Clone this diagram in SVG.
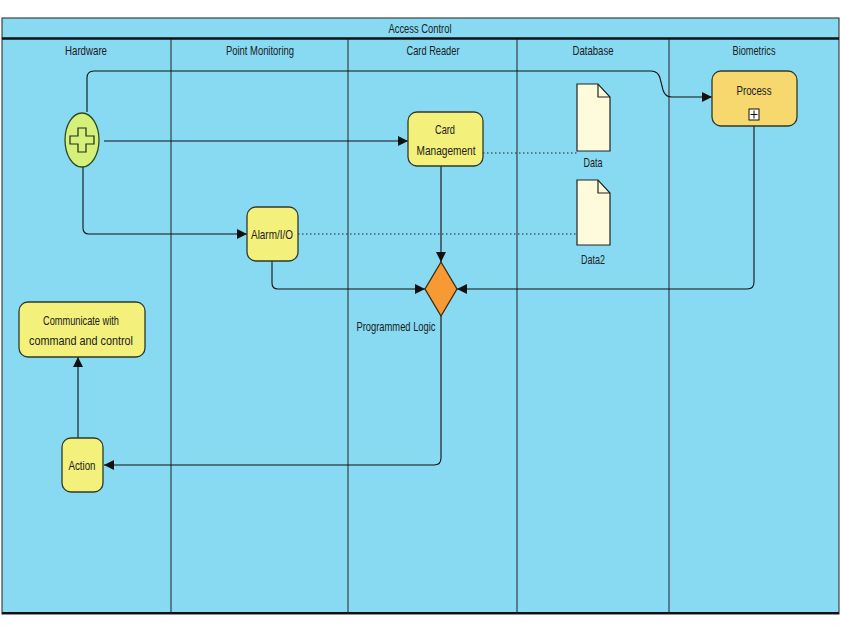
<svg xmlns="http://www.w3.org/2000/svg" width="842" height="631" viewBox="0 0 842 631">
<style>
text{font-family:"Liberation Sans Narrow","Liberation Sans",Arial,sans-serif;font-size:13px;fill:#1a1a1a;text-anchor:middle}
.task{fill:#f4f07c;stroke:#2d3b2a;stroke-width:1.3}
.lane{fill:#88daf3;stroke:#222;stroke-width:1}
.flow{fill:none;stroke:#111;stroke-width:1.1}
.dot{fill:none;stroke:#222;stroke-width:1;stroke-dasharray:1.5 2.5}
.doc{fill:#fdfbdc;stroke:#222;stroke-width:1.2}
</style>
<defs>
<marker id="ah" viewBox="0 0 10 10" refX="10" refY="5" markerWidth="10" markerHeight="10" markerUnits="userSpaceOnUse" orient="auto">
<path d="M0,0 L10,5 L0,10 Z" fill="#111"/>
</marker>
</defs>
<rect width="842" height="631" fill="#fff"/>
<g id="pool">
<rect class="lane" x="2" y="18" width="837" height="596"/>
<line x1="2" y1="38.5" x2="839" y2="38.5" stroke="#111" stroke-width="2.5"/>
<line x1="2" y1="613" x2="839" y2="613" stroke="#111" stroke-width="2"/>
<text x="420" y="33" textLength="63" lengthAdjust="spacingAndGlyphs">Access Control</text>
<line x1="171" y1="39" x2="171" y2="614" stroke="#222"/>
<line x1="348" y1="39" x2="348" y2="614" stroke="#222"/>
<line x1="517" y1="39" x2="517" y2="614" stroke="#222"/>
<line x1="669" y1="39" x2="669" y2="614" stroke="#222"/>
<text x="86" y="55" textLength="42" lengthAdjust="spacingAndGlyphs">Hardware</text>
<text x="260" y="55" textLength="68" lengthAdjust="spacingAndGlyphs">Point Monitoring</text>
<text x="433" y="55" textLength="53" lengthAdjust="spacingAndGlyphs">Card Reader</text>
<text x="593" y="55" textLength="41" lengthAdjust="spacingAndGlyphs">Database</text>
<text x="754" y="55" textLength="43" lengthAdjust="spacingAndGlyphs">Biometrics</text>
</g>
<g id="connectors">
<path class="flow" d="M87,112 V78 Q87,71 94,71 H651 Q658,71 660,78 L663,90 Q665,97 672,97 H712" marker-end="url(#ah)"/>
<path class="flow" d="M104,141 H408" marker-end="url(#ah)"/>
<path class="flow" d="M83,167 V228 Q83,234 89,234 H247" marker-end="url(#ah)"/>
<path class="flow" d="M441,166 V262" marker-end="url(#ah)"/>
<path class="flow" d="M272,261 V283 Q272,289 278,289 H425" marker-end="url(#ah)"/>
<path class="flow" d="M754,126 V282 Q754,289 747,289 H457" marker-end="url(#ah)"/>
<path class="flow" d="M441,316 V458 Q441,465 434,465 H104" marker-end="url(#ah)"/>
<path class="flow" d="M78,438 V357" marker-end="url(#ah)"/>
<path class="dot" d="M483,153 H577"/>
<path class="dot" d="M298,234 H577"/>
</g>
<g id="gateway-parallel">
<ellipse cx="82" cy="140" rx="17" ry="27" fill="#d6f07c" stroke="#2d4a1e" stroke-width="1.3"/>
<path d="M78,128 H86 V136 H94 V144 H86 V152 H78 V144 H70 V136 H78 Z" fill="#d6f07c" stroke="#1e2e14" stroke-width="1.2"/>
</g>
<g id="card-management">
<rect class="task" x="408" y="112" width="75" height="54" rx="9"/>
<text x="445" y="134" textLength="20" lengthAdjust="spacingAndGlyphs">Card</text>
<text x="446" y="155" textLength="59" lengthAdjust="spacingAndGlyphs">Management</text>
</g>
<g id="alarm-io">
<rect class="task" x="247" y="207" width="51" height="54" rx="9"/>
<text x="272" y="239" textLength="42" lengthAdjust="spacingAndGlyphs">Alarm/I/O</text>
</g>
<g id="process">
<rect x="712" y="71" width="85" height="55" rx="9" fill="#f6d86e" stroke="#2d3b2a" stroke-width="1.3"/>
<text x="754" y="95" textLength="35" lengthAdjust="spacingAndGlyphs">Process</text>
<rect x="749" y="109" width="10" height="11" fill="#fff" stroke="#111" stroke-width="1"/>
<path d="M754,110.5 V118.5 M750.5,114.5 H757.5" stroke="#111" stroke-width="1"/>
</g>
<g id="data">
<path class="doc" d="M577,84 H598 L610,97 V151 H577 Z"/>
<path d="M598,84 V97 H610" fill="none" stroke="#222" stroke-width="1.2"/>
<text x="593" y="167" textLength="19" lengthAdjust="spacingAndGlyphs">Data</text>
</g>
<g id="data2">
<path class="doc" d="M577,180 H598 L610,193 V245 H577 Z"/>
<path d="M598,180 V193 H610" fill="none" stroke="#222" stroke-width="1.2"/>
<text x="593" y="264" textLength="24" lengthAdjust="spacingAndGlyphs">Data2</text>
</g>
<g id="programmed-logic">
<path d="M441,262 L457,289 L441,316 L425,289 Z" fill="#f79a33" stroke="#3a2a14" stroke-width="1.3"/>
<text x="396" y="331" textLength="79" lengthAdjust="spacingAndGlyphs">Programmed Logic</text>
</g>
<g id="communicate">
<rect class="task" x="19" y="302" width="126" height="55" rx="9"/>
<text x="81" y="325" textLength="76" lengthAdjust="spacingAndGlyphs">Communicate with</text>
<text x="81" y="345" textLength="104" lengthAdjust="spacingAndGlyphs">command and control</text>
</g>
<g id="action">
<rect class="task" x="62" y="438" width="41" height="54" rx="9"/>
<text x="82" y="470" textLength="27" lengthAdjust="spacingAndGlyphs">Action</text>
</g>
</svg>
